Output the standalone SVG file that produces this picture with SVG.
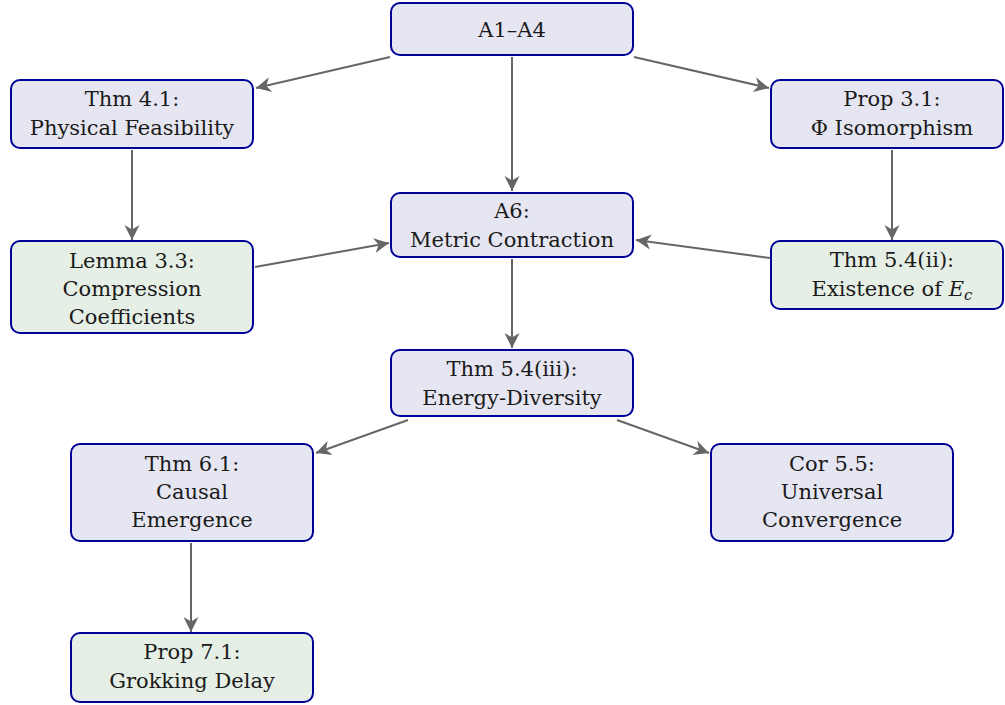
<svg xmlns="http://www.w3.org/2000/svg" width="1005" height="705" viewBox="0 0 1005 705">
<defs>
<style>
.b{fill:#e6e6f2;stroke:#000099;stroke-width:2}
.g{fill:#e6efe6;stroke:#000099;stroke-width:2}
.t{font-family:'DejaVu Serif',serif;font-size:21px;fill:#1a1a1a;text-anchor:middle}
.e{stroke:#666;stroke-width:2;fill:none;marker-end:url(#ah)}
</style>
<marker id="ah" markerUnits="userSpaceOnUse" markerWidth="20" markerHeight="20" refX="15" refY="7.5" orient="auto" viewBox="0 0 20 15">
<path d="M15,7.5 L0,0 L4.5,7.5 L0,15 Z" fill="#666"/>
</marker>
</defs>
<rect width="1005" height="705" fill="#fff"/>
<g id="connectors">
<line class="e" x1="390" y1="57" x2="256" y2="88"/>
<line class="e" x1="512" y1="57" x2="512" y2="191"/>
<line class="e" x1="634" y1="57" x2="769" y2="88"/>
<line class="e" x1="132" y1="150" x2="132" y2="240"/>
<line class="e" x1="892" y1="150" x2="892" y2="240"/>
<line class="e" x1="255" y1="267" x2="389" y2="243"/>
<line class="e" x1="770" y1="258" x2="636" y2="240"/>
<line class="e" x1="512" y1="259" x2="512" y2="348"/>
<line class="e" x1="408" y1="420" x2="316" y2="453"/>
<line class="e" x1="617" y1="420" x2="709" y2="453"/>
<line class="e" x1="191" y1="543" x2="191" y2="632"/>
</g>
<g id="n-a1a4"><rect class="b" x="391" y="3" width="242" height="52" rx="9"/><text class="t" x="512" y="37">A1–A4</text></g>
<g id="n-thm41"><rect class="b" x="11" y="80" width="242" height="68" rx="9"/><text class="t" x="132" y="106">Thm 4.1:</text><text class="t" x="132" y="135">Physical Feasibility</text></g>
<g id="n-prop31"><rect class="b" x="771" y="80" width="232" height="68" rx="9"/><text class="t" x="892" y="106">Prop 3.1:</text><text class="t" x="892" y="135">Φ Isomorphism</text></g>
<g id="n-a6"><rect class="b" x="391" y="193" width="242" height="64" rx="9"/><text class="t" x="512" y="218">A6:</text><text class="t" x="512" y="247">Metric Contraction</text></g>
<g id="n-lem33"><rect class="g" x="11" y="241" width="242" height="92" rx="9"/><text class="t" x="132" y="268">Lemma 3.3:</text><text class="t" x="132" y="296">Compression</text><text class="t" x="132" y="324">Coefficients</text></g>
<g id="n-thm54ii"><rect class="g" x="771" y="241" width="232" height="68" rx="9"/><text class="t" x="892" y="267">Thm 5.4(ii):</text><text class="t" x="892" y="296">Existence of <tspan font-style="italic">E</tspan><tspan font-style="italic" font-size="15" dy="4">c</tspan></text></g>
<g id="n-thm54iii"><rect class="b" x="391" y="350" width="242" height="66" rx="9"/><text class="t" x="512" y="376">Thm 5.4(iii):</text><text class="t" x="512" y="405">Energy-Diversity</text></g>
<g id="n-thm61"><rect class="b" x="71" y="444" width="242" height="97" rx="9"/><text class="t" x="192" y="471">Thm 6.1:</text><text class="t" x="192" y="499">Causal</text><text class="t" x="192" y="527">Emergence</text></g>
<g id="n-cor55"><rect class="b" x="711" y="444" width="242" height="97" rx="9"/><text class="t" x="832" y="471">Cor 5.5:</text><text class="t" x="832" y="499">Universal</text><text class="t" x="832" y="527">Convergence</text></g>
<g id="n-prop71"><rect class="g" x="71" y="633" width="242" height="69" rx="9"/><text class="t" x="192" y="659">Prop 7.1:</text><text class="t" x="192" y="688">Grokking Delay</text></g>
</svg>
